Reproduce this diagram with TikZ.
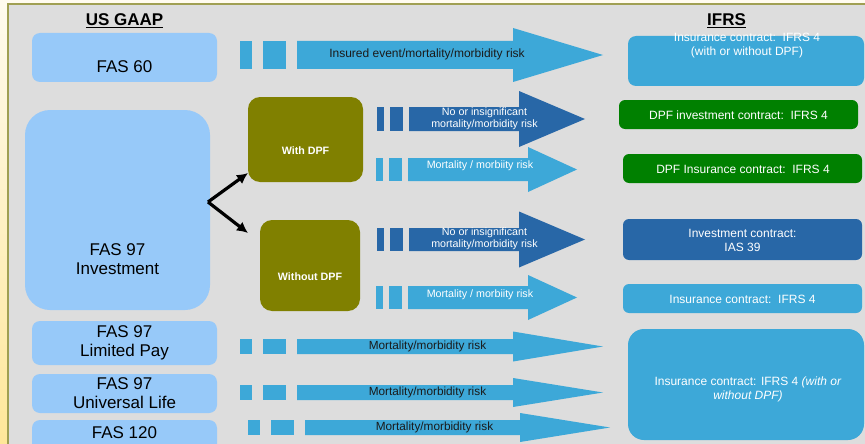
\documentclass[tikz,border=0pt]{standalone}
\usepackage{fontspec}
\setmainfont{Liberation Sans}
\usetikzlibrary{arrows.meta}
\definecolor{leftblue}{HTML}{97C9F9}
\definecolor{arrowblue}{HTML}{3DA8D8}
\definecolor{darkblue}{HTML}{2867A7}
\definecolor{dpfgreen}{HTML}{008000}
\definecolor{olivebox}{HTML}{808000}
\definecolor{panelgray}{HTML}{DDDDDD}
\definecolor{panelline}{HTML}{A09F52}
\definecolor{creamtop}{HTML}{FFFBEF}
\definecolor{creambot}{HTML}{FFE799}
\definecolor{darktxt}{HTML}{1A1A1A}
\newcommand\fsBig{\fontsize{17}{19}\selectfont}
\newcommand\fsMed{\fontsize{12}{14}\selectfont}
\newcommand\fsSml{\fontsize{10.7}{12}\selectfont}
% name, colour, y centre, half shaft, half head, first square left, shaft left, head left, tip
\newcommand\riskarrow[9]{%
  \fill[#2] (#6,{#3-#4}) rectangle ({#6+0.21*(#7-#6)},{#3+#4});
  \fill[#2] ({#6+0.40*(#7-#6)},{#3-#4}) rectangle ({#6+0.81*(#7-#6)},{#3+#4});
  \fill[#2] (#7,{#3-#4}) -- (#8,{#3-#4}) -- (#8,{#3-#5}) -- (#9,#3) -- (#8,{#3+#5}) -- (#8,{#3+#4}) -- (#7,{#3+#4}) -- cycle;
  \coordinate (#1) at ({(#7+#9)/2},#3);
}
\tikzset{
  lbox/.style={fill=leftblue, draw=none, rounded corners=8pt, inner sep=0pt},
  obox/.style={fill=olivebox, draw=none, rounded corners=12pt, inner sep=0pt},
  rbox/.style={fill=#1, draw=none, rounded corners=6pt, inner sep=0pt},
  bigtxt/.style={font=\fsBig, text=black, align=center, inner sep=0pt},
  wtxt/.style={font=\fsMed, text=white, align=center, inner sep=0pt},
  wsml/.style={font=\fsSml, text=white, align=center, inner sep=0pt},
  dtxt/.style={font=\fsMed, text=darktxt, align=center, inner sep=0pt},
  forkarrow/.style={line width=3.2pt, -{Latex[length=11pt,width=11pt]}},
}
\begin{document}
\begin{tikzpicture}[x=1pt,y=-1pt]
\useasboundingbox (0,0) rectangle (865,444);
\clip (0,0) rectangle (865,444);
% background
\fill[top color=creamtop, bottom color=creambot] (0,0) rectangle (865,444);
\fill[panelgray] (8,4) rectangle (870,450);
\draw[panelline, line width=1.5pt] (8,450) -- (8,4) -- (870,4);

% titles
\node[font=\fsBig\bfseries, inner sep=0pt] (usgaap) at (124.5,21) {\underline{US GAAP}};
\node[font=\fsBig\bfseries, inner sep=0pt] (ifrs) at (726.5,21) {\underline{IFRS}};

% left boxes
\node[lbox, minimum width=185pt, minimum height=49pt] (fas60) at (124.5,57.5) {};
\node[bigtxt] (fas60t) at (124.5,67) {FAS 60};
\node[lbox, rounded corners=25pt, minimum width=185pt, minimum height=200pt] (inv) at (117.5,210) {};
\node[bigtxt] (invt) at (117.5,259) {FAS 97\\Investment};
\node[lbox, minimum width=185pt, minimum height=44pt] (ltd) at (124.5,343) {};
\node[bigtxt] (ltdt) at (124.5,343) {FAS 97\\Limited Pay};
\node[lbox, minimum width=185pt, minimum height=39pt] (ul) at (124.5,393.5) {};
\node[bigtxt] (ult) at (124.5,393) {FAS 97\\Universal Life};
\node[lbox, minimum width=185pt, minimum height=32pt] (f120) at (124.5,436) {};
\node[bigtxt] (f120t) at (124.5,433) {FAS 120};

% olive boxes
\node[obox, minimum width=115pt, minimum height=85pt] (with) at (305.5,139.5) {};
\node[wsml, font=\fsSml\bfseries] (witht) at (305.5,151) {With DPF};
\node[obox, minimum width=100pt, minimum height=91pt] (without) at (310,265.5) {};
\node[wsml, font=\fsSml\bfseries] (withoutt) at (310,277) {Without DPF};

% fork arrows
\coordinate (fork) at (208,202);
\coordinate (upend) at (248,173);
\coordinate (dnend) at (248,233);
\draw[forkarrow] (fork) -- (upend);
\draw[forkarrow] (fork) -- (dnend);

% risk arrows
\riskarrow{a1}{arrowblue}{55}{14}{27}{240}{297}{513}{603}
\riskarrow{a2}{darkblue}{119}{12}{28}{377}{409}{519}{585}
\riskarrow{a3}{arrowblue}{169.5}{11.5}{22.5}{376}{408}{528}{577}
\riskarrow{a4}{darkblue}{239.5}{11.5}{28}{377}{409}{519}{585}
\riskarrow{a5}{arrowblue}{297.5}{11.5}{22.5}{376}{408}{528}{577}
\riskarrow{a6}{arrowblue}{346.5}{7.5}{15}{240}{297}{513}{603}
\riskarrow{a7}{arrowblue}{392.5}{7.5}{14.5}{240}{297}{513}{603}
\riskarrow{a8}{arrowblue}{427.5}{7.5}{14.5}{248}{305}{520}{610}

\node[dtxt] (t1) at (427,54.5) {Insured event/mortality/morbidity risk};
\node[wsml] (t2) at (484.5,119) {No or insignificant\\mortality/morbidity risk};
\node[wsml] (t3) at (480,165.5) {Mortality / morbiity risk};
\node[wsml] (t4) at (484.5,239) {No or insignificant\\mortality/morbidity risk};
\node[wsml] (t5) at (480,294.5) {Mortality / morbiity risk};
\node[dtxt, font=\fontsize{11.8}{13}\selectfont] (t6) at (427.5,346) {Mortality/morbidity risk};
\node[dtxt, font=\fontsize{11.8}{13}\selectfont] (t7) at (427.5,392.5) {Mortality/morbidity risk};
\node[dtxt, font=\fontsize{11.8}{13}\selectfont] (t8) at (434.5,427) {Mortality/morbidity risk};

% right boxes
\node[rbox=arrowblue, rounded corners=8pt, minimum width=236pt, minimum height=50pt] (r1) at (746,61) {};
\node[wtxt] (r1t) at (747,46) {Insurance contract:~~IFRS 4\\(with or without DPF)};
\node[rbox=dpfgreen, minimum width=239pt, minimum height=29pt] (r2) at (738.5,114.5) {};
\node[wtxt] (r2t) at (738.5,115) {DPF investment contract:~~IFRS 4};
\node[rbox=dpfgreen, minimum width=239pt, minimum height=29pt] (r3) at (742.5,168.5) {};
\node[wtxt] (r3t) at (743,169) {DPF Insurance contract:~~IFRS 4};
\node[rbox=darkblue, minimum width=239pt, minimum height=41pt] (r4) at (742.5,239.5) {};
\node[wtxt] (r4t) at (742.5,240) {Investment contract:\\IAS 39};
\node[rbox=arrowblue, minimum width=239pt, minimum height=29pt] (r5) at (742.5,298.5) {};
\node[wtxt] (r5t) at (742.5,299) {Insurance contract:~~IFRS 4};
\node[rbox=arrowblue, rounded corners=16pt, minimum width=236pt, minimum height=111pt] (r6) at (746,384.5) {};
\node[wtxt] (r6t) at (748,389) {Insurance contract: IFRS 4 \textit{(with or}\\\textit{without DPF)}};
\end{tikzpicture}
\end{document}
